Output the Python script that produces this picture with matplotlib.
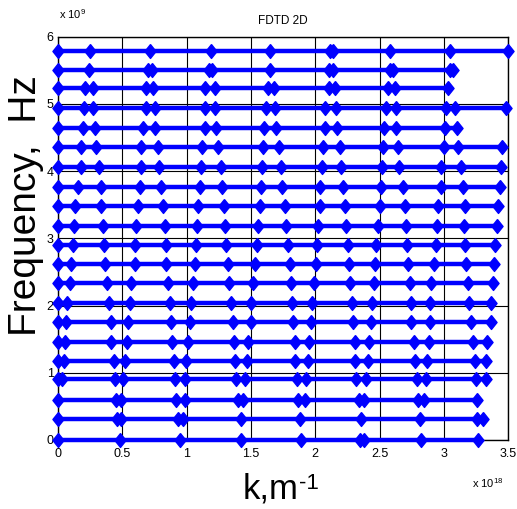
import numpy as np
import matplotlib
matplotlib.use('Agg')
import matplotlib.pyplot as plt

plt.rcParams['font.family'] = ['Liberation Sans', 'DejaVu Sans']
plt.rcParams['mathtext.fontset'] = 'custom'
plt.rcParams['mathtext.rm'] = 'Liberation Sans'

# frequencies of each line (x 1e9 Hz), bottom to top
freqs = [0.0, 0.31, 0.59, 0.90, 1.18, 1.46, 1.76, 2.04, 2.33, 2.62, 2.90,
         3.19, 3.48, 3.77, 4.06, 4.36, 4.64, 4.94, 5.23, 5.51, 5.79]

# k values (x 1e18 1/m) of the markers on each line, same order as freqs
k_lines = [
    [0, 0.479, 0.946, 1.420, 1.886, 2.345, 2.376, 2.824, 3.269],
    [0, 0.461, 0.492, 0.933, 0.972, 1.420, 1.878, 2.358, 2.811, 3.259, 3.303],
    [0, 0.453, 0.492, 0.920, 0.984, 1.399, 1.438, 1.865, 1.917, 2.337, 2.383,
     2.798, 2.845, 3.256],
    [0, 0.034, 0.440, 0.505, 0.912, 0.984, 1.386, 1.451, 1.858, 1.930, 2.319,
     2.391, 2.790, 2.858, 3.251, 3.324],
    [0, 0.047, 0.433, 0.523, 0.902, 0.997, 1.373, 1.472, 1.845, 1.943, 2.311,
     2.409, 2.777, 2.870, 3.238, 3.329],
    [0, 0.057, 0.415, 0.539, 0.886, 1.010, 1.365, 1.477, 1.839, 1.951, 2.306,
     2.417, 2.767, 2.883, 3.225, 3.337],
    [0, 0.065, 0.409, 0.544, 0.881, 1.023, 1.360, 1.497, 1.826, 1.964, 2.293,
     2.435, 2.746, 2.889, 3.212, 3.363],
    [0, 0.073, 0.396, 0.557, 0.868, 1.036, 1.347, 1.503, 1.819, 1.977, 2.285,
     2.443, 2.746, 2.894, 3.199, 3.368],
    [0, 0.091, 0.381, 0.570, 0.855, 1.049, 1.329, 1.516, 1.808, 1.990, 2.272,
     2.456, 2.733, 2.902, 3.187, 3.381],
    [0, 0.104, 0.368, 0.596, 0.842, 1.062, 1.321, 1.534, 1.801, 2.003, 2.262,
     2.461, 2.720, 2.927, 3.174, 3.389],
    [0, 0.117, 0.358, 0.601, 0.842, 1.070, 1.308, 1.547, 1.788, 2.013, 2.254,
     2.474, 2.715, 2.940, 3.161, 3.394],
    [0, 0.124, 0.350, 0.609, 0.829, 1.080, 1.301, 1.554, 1.775, 2.021, 2.241,
     2.487, 2.702, 2.948, 3.155, 3.415],
    [0, 0.135, 0.337, 0.622, 0.816, 1.088, 1.290, 1.567, 1.762, 2.034, 2.228,
     2.500, 2.694, 2.953, 3.161, 3.420],
    [0, 0.155, 0.332, 0.635, 0.798, 1.101, 1.277, 1.575, 1.744, 2.041, 2.215,
     2.513, 2.681, 2.974, 3.148, 3.433],
    [0, 0.176, 0.319, 0.642, 0.782, 1.114, 1.264, 1.585, 1.731, 2.052, 2.202,
     2.521, 2.655, 2.979, 3.130, 3.446],
    [0, 0.181, 0.298, 0.648, 0.777, 1.119, 1.244, 1.593, 1.715, 2.060, 2.189,
     2.526, 2.642, 3.000, 3.109, 3.451],
    [0, 0.194, 0.285, 0.661, 0.751, 1.140, 1.231, 1.601, 1.697, 2.073, 2.171,
     2.534, 2.630, 3.005, 3.104],
    [0, 0.199, 0.272, 0.681, 0.751, 1.145, 1.218, 1.614, 1.689, 2.078, 2.163,
     2.547, 2.624, 3.018, 3.083, 3.484],
    [0, 0.207, 0.272, 0.681, 0.738, 1.145, 1.218, 1.632, 1.679, 2.104, 2.155,
     2.565, 2.617, 3.031],
    [0, 0.241, 0.699, 0.731, 1.174, 1.199, 1.650, 2.106, 2.137, 2.578, 2.604,
     3.044, 3.070],
    [0, 0.246, 0.712, 1.187, 1.650, 2.111, 2.137, 2.585, 3.049, 3.497],
]

xticks = [0, 0.5, 1, 1.5, 2, 2.5, 3, 3.5]
xticklabels = ['0', '0.5', '1', '1.5', '2', '2.5', '3', '3.5']
yticks = [0, 1, 2, 3, 4, 5, 6]

# diamond a bit taller than wide, like matlab 'd'
diamond = [(0, 1), (0.8, 0), (0, -1), (-0.8, 0), (0, 1)]

fig = plt.figure(figsize=(5.17, 5.09), dpi=100)
ax = fig.add_axes([0.112, 0.1356, 0.871, 0.7924])

for f, ks in zip(freqs, k_lines):
    ax.plot(ks, [f] * len(ks), '-', marker=diamond, color='#0000ff',
            lw=3.2, ms=10, clip_on=False, zorder=3)

ax.set_xlim(0, 3.5)
ax.set_ylim(0, 6)
ax.set_xticks(xticks)
ax.set_xticklabels(xticklabels, fontsize=9)
ax.set_yticks(yticks)
ax.set_yticklabels([str(v) for v in yticks], fontsize=9)
ax.grid(True, color='k', lw=0.8, ls='-')
ax.set_axisbelow(True)
ax.tick_params(direction='in', length=0)
ax.tick_params(axis='x', pad=6)
ax.tick_params(axis='y', pad=3)
for s in ax.spines.values():
    s.set_linewidth(1.0)

ax.set_title('FDTD 2D', fontsize=8.5, pad=9)
ax.set_ylabel('Frequency,  Hz', fontsize=28)
ax.yaxis.set_label_coords(-0.03, 0.58)

# x label with a plain hyphen in the exponent, as in the original
fig.text(0.577, 0.02, 'k,m', fontsize=25, ha='right', va='baseline')
fig.text(0.579, 0.040, '-1', fontsize=16, ha='left', va='baseline')

# matlab style exponent labels
fig.text(0.114, 0.962, r'x 10$^{9}$', fontsize=8)
fig.text(0.912, 0.042, r'x 10$^{18}$', fontsize=8)

plt.savefig('out.png', dpi=100)
